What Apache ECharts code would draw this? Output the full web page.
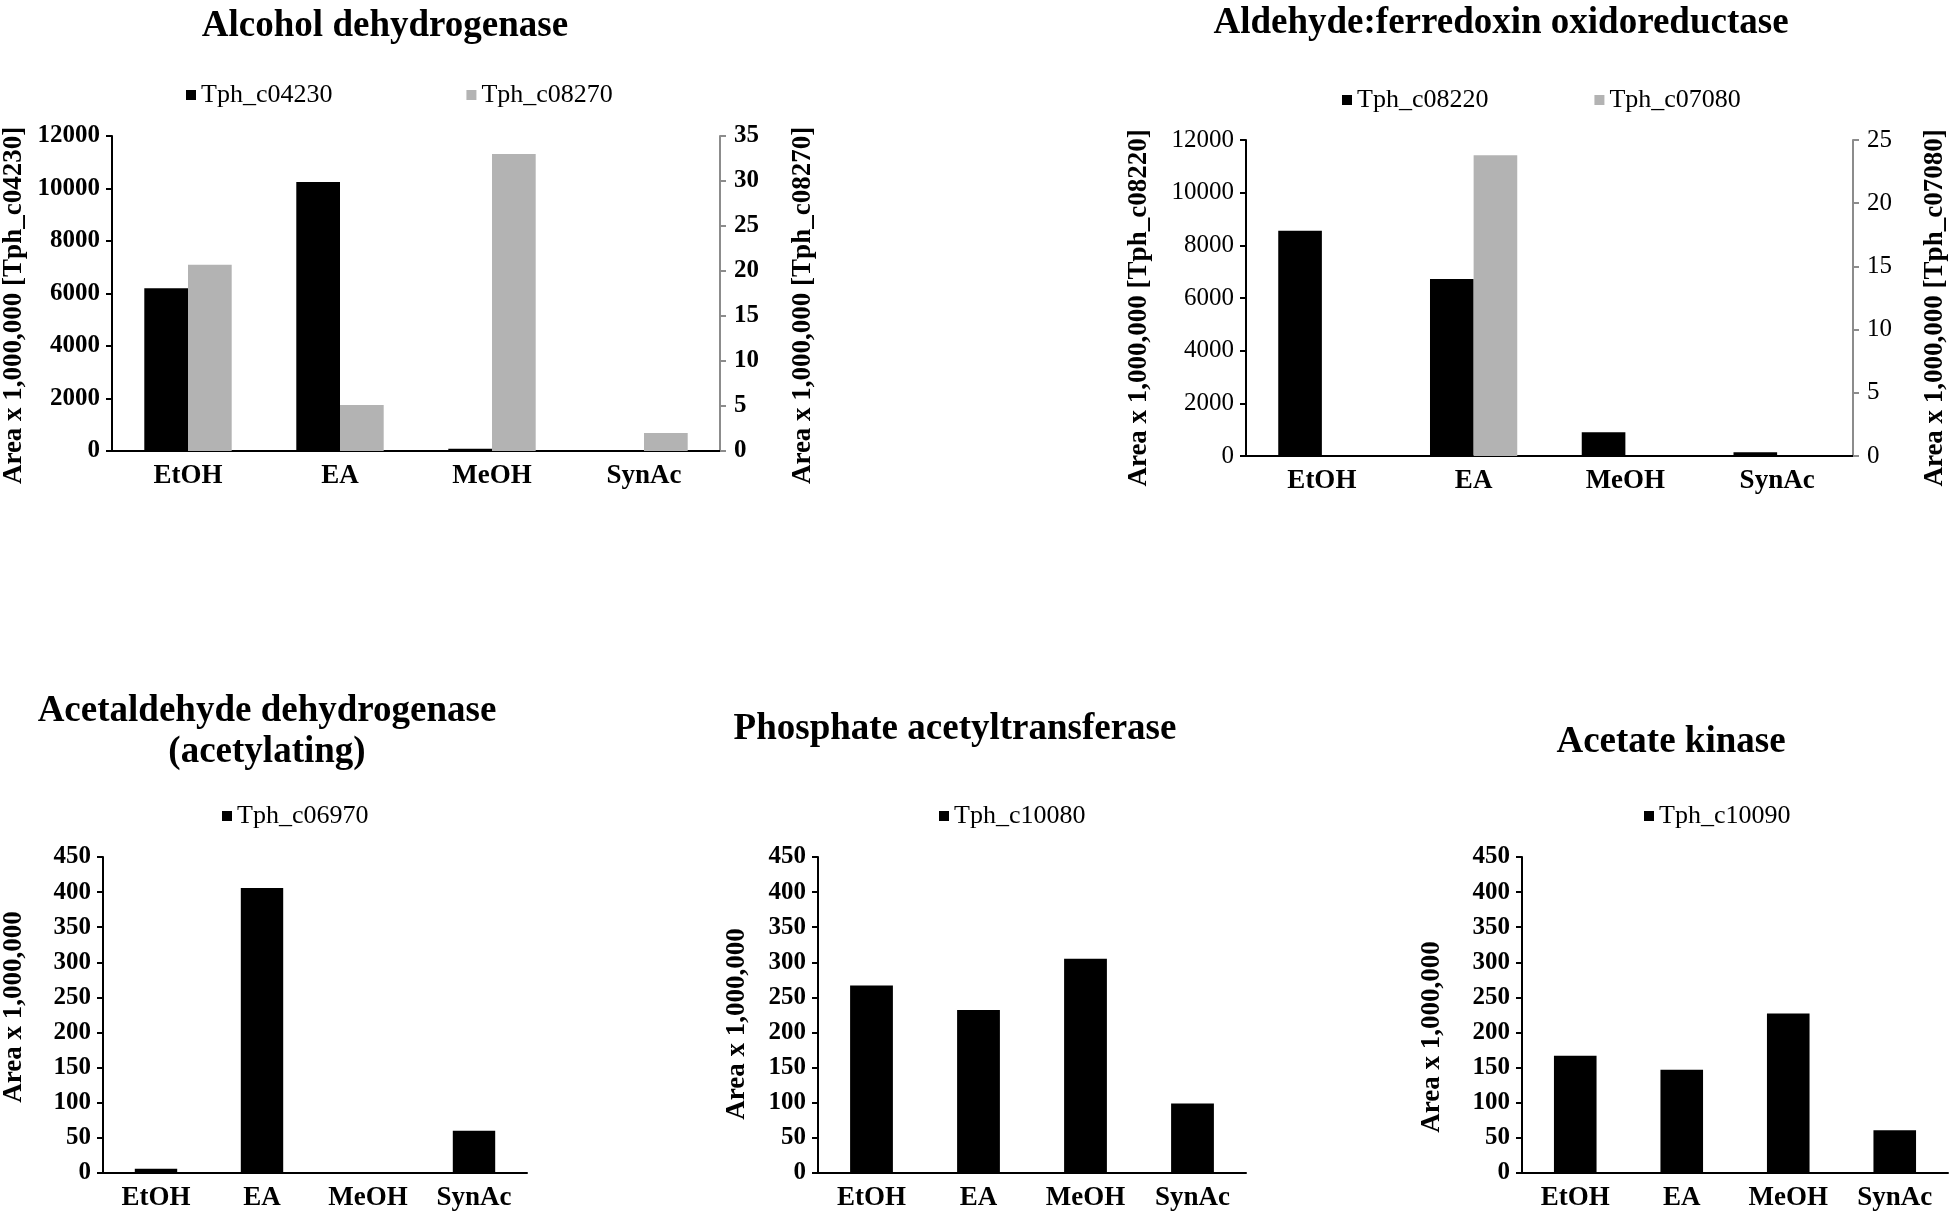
<!DOCTYPE html>
<html>
<head>
<meta charset="utf-8">
<script src="https://cdn.jsdelivr.net/npm/echarts@6/dist/echarts.min.js"></script>
<style>
  html, body { margin: 0; padding: 0; background: #fff; }
  #main { width: 1950px; height: 1212px; }
</style>
</head>
<body>
<div id="main"></div>
<script>
// categories and values (Area x 1,000,000)
var categories = ['EtOH', 'EA', 'MeOH', 'SynAc'];
var adhBlack = [6200, 10250, 90, 40];      // Tph_c04230
var adhGray = [20.7, 5.1, 33.0, 2.0];      // Tph_c08270
var aforBlack = [8550, 6720, 900, 140];    // Tph_c08220
var aforGray = [0, 23.8, 0, 0];            // Tph_c07080
var aldhValues = [6, 406, 0, 60];          // Tph_c06970
var ptaValues = [267, 232, 305, 99];       // Tph_c10080
var ackValues = [167, 147, 227, 61];       // Tph_c10090

var FONT = 'Liberation Serif';
var BLACK = '#000000';
var GRAY = '#b3b3b3';
var AXISGRAY = '#8c8c8c';

function titleAt(text, x, y) {
    return {
        text: text, left: x, top: y, textAlign: 'center', padding: 0,
        textStyle: { fontFamily: FONT, fontSize: 37, fontWeight: 'bold', color: '#000', lineHeight: 41 }
    };
}
function legendAt(names, x, y, gap) {
    return {
        data: names, left: x, top: y, padding: 0, itemGap: gap,
        icon: 'rect', itemWidth: 10, itemHeight: 10,
        textStyle: { fontFamily: FONT, fontSize: 26, color: '#000' }
    };
}
function catAxis(grid) {
    return {
        type: 'category', gridIndex: grid, data: categories,
        axisLine: { lineStyle: { color: '#000', width: 2 } },
        axisTick: { length: 6, lineStyle: { color: '#000', width: 2 } },
        axisLabel: { fontFamily: FONT, fontSize: 27, fontWeight: 'bold', color: '#000', margin: 12 }
    };
}
function valAxis(grid, max, step, name, gap, bold, shift, right) {
    var col = right ? AXISGRAY : '#000';
    return {
        type: 'value', gridIndex: grid, min: 0, max: max, interval: step,
        position: right ? 'right' : 'left',
        name: name, nameLocation: 'middle', nameGap: gap, nameRotate: 90,
        nameTextStyle: {
            fontFamily: FONT, fontSize: 27, fontWeight: 'bold', color: '#000',
            padding: shift >= 0 ? [0, 2 * shift, 0, 0] : [0, 0, 0, -2 * shift]
        },
        splitLine: { show: false },
        axisLine: { show: true, lineStyle: { color: col, width: 2 } },
        axisTick: { show: true, length: 6, lineStyle: { color: col, width: 2 } },
        axisLabel: {
            fontFamily: FONT, fontSize: 25, fontWeight: bold ? 'bold' : 'normal', color: '#000',
            margin: right ? 14 : 12,
            formatter: function (v) { return String(v); }
        }
    };
}

var chart = echarts.init(document.getElementById('main'));
chart.setOption({
    backgroundColor: '#fff',
    animation: false,
    title: [
        titleAt('Alcohol dehydrogenase', 385, 6),
        titleAt('Aldehyde:ferredoxin oxidoreductase', 1501, 3),
        titleAt('Acetaldehyde dehydrogenase\n(acetylating)', 267, 691),
        titleAt('Phosphate acetyltransferase', 955, 709),
        titleAt('Acetate kinase', 1671, 722)
    ],
    legend: [
        legendAt(['Tph_c04230', 'Tph_c08270'], 186, 82, 134),
        legendAt(['Tph_c08220', 'Tph_c07080'], 1342, 87, 106),
        legendAt(['Tph_c06970'], 222, 803, 10),
        legendAt(['Tph_c10080'], 939, 803, 10),
        legendAt(['Tph_c10090'], 1644, 803, 10)
    ],
    grid: [
        { left: 110, top: 136, width: 610, height: 315 },
        { left: 1246, top: 140, width: 608, height: 316 },
        { left: 101, top: 857, width: 426, height: 317 },
        { left: 818, top: 857, width: 428, height: 317 },
        { left: 1522, top: 857, width: 426, height: 317 }
    ],
    xAxis: [catAxis(0), catAxis(1), catAxis(2), catAxis(3), catAxis(4)],
    yAxis: [
        valAxis(0, 12000, 2000, 'Area x 1,000,000 [Tph_c04230]', 84, true, 12, false),
        valAxis(0, 35, 5, 'Area x 1,000,000 [Tph_c08270]', 70, true, 12, true),
        valAxis(1, 12000, 2000, 'Area x 1,000,000 [Tph_c08220]', 93, false, 10, false),
        valAxis(1, 25, 5, 'Area x 1,000,000 [Tph_c07080]', 69, false, 10, true),
        valAxis(2, 450, 50, 'Area x 1,000,000', 75, true, -8, false),
        valAxis(3, 450, 50, 'Area x 1,000,000', 67, true, 9, false),
        valAxis(4, 450, 50, 'Area x 1,000,000', 76, true, 22, false)
    ],
    series: [
        { name: 'Tph_c04230', type: 'bar', xAxisIndex: 0, yAxisIndex: 0, data: adhBlack,
          barGap: '0%', barCategoryGap: '42.5%', itemStyle: { color: BLACK } },
        { name: 'Tph_c08270', type: 'bar', xAxisIndex: 0, yAxisIndex: 1, data: adhGray,
          barGap: '0%', barCategoryGap: '42.5%', itemStyle: { color: GRAY } },
        { name: 'Tph_c08220', type: 'bar', xAxisIndex: 1, yAxisIndex: 2, data: aforBlack,
          barGap: '0%', barCategoryGap: '42.5%', itemStyle: { color: BLACK } },
        { name: 'Tph_c07080', type: 'bar', xAxisIndex: 1, yAxisIndex: 3, data: aforGray,
          barGap: '0%', barCategoryGap: '42.5%', itemStyle: { color: GRAY } },
        { name: 'Tph_c06970', type: 'bar', xAxisIndex: 2, yAxisIndex: 4, data: aldhValues,
          barWidth: '40%', itemStyle: { color: BLACK } },
        { name: 'Tph_c10080', type: 'bar', xAxisIndex: 3, yAxisIndex: 5, data: ptaValues,
          barWidth: '40%', itemStyle: { color: BLACK } },
        { name: 'Tph_c10090', type: 'bar', xAxisIndex: 4, yAxisIndex: 6, data: ackValues,
          barWidth: '40%', itemStyle: { color: BLACK } }
    ]
});
</script>
</body>
</html>
